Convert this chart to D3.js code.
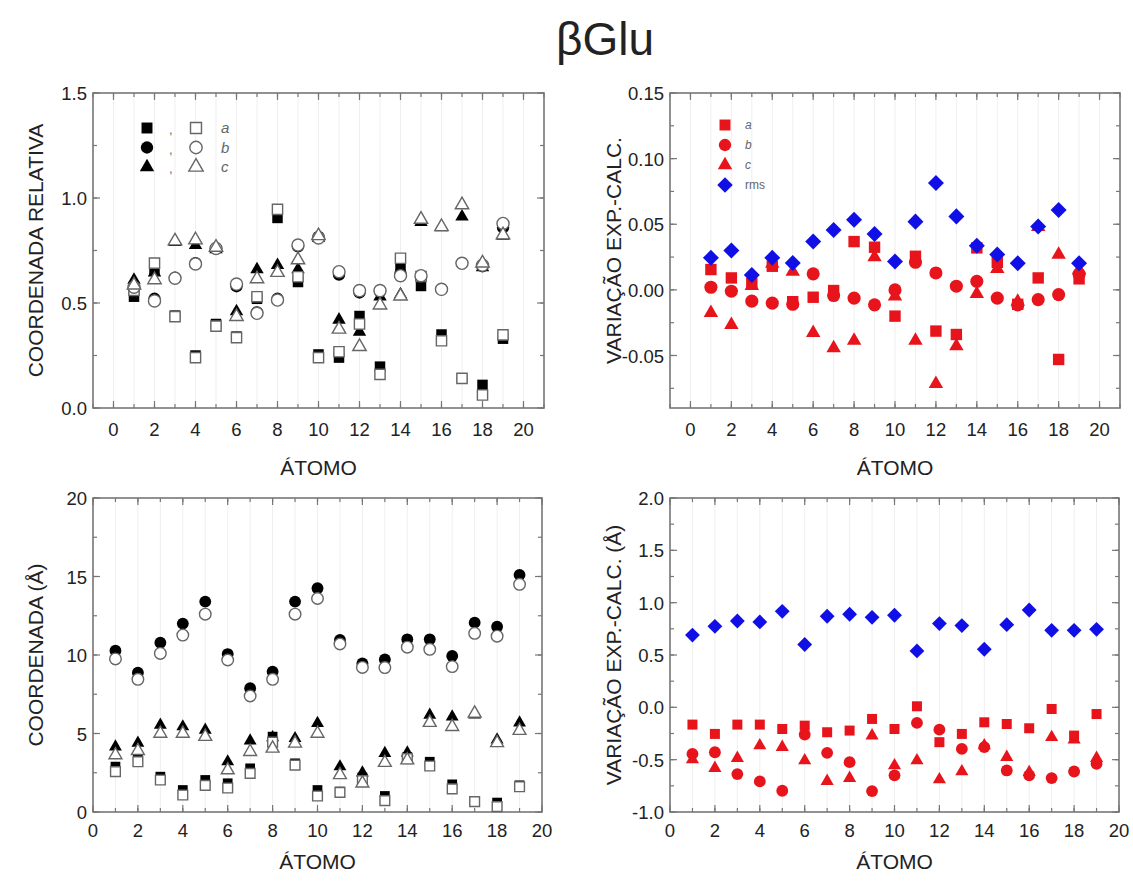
<!DOCTYPE html>
<html>
<head>
<meta charset="utf-8">
<script src="https://cdn.jsdelivr.net/npm/d3@7"></script>
<style>
  body { margin: 0; background: #fff; }
  text { font-family: "Liberation Sans", Arial, sans-serif; }
</style>
</head>
<body>
<div id="chart"></div>
<script>
// atom numbers
var atoms = [1, 2, 3, 4, 5, 6, 7, 8, 9, 10, 11, 12, 13, 14, 15, 16, 17, 18, 19];

// relative (fractional) coordinates, filled = exp, open = calc
var relA_exp  = [0.53, 0.655, 0.44, 0.25, 0.40, 0.34, 0.52, 0.905, 0.60, 0.255, 0.24, 0.438, 0.197, 0.672, 0.581, 0.35, 0.14, 0.11, 0.33];
var relA_calc = [0.56, 0.69, 0.435, 0.24, 0.39, 0.335, 0.53, 0.946, 0.625, 0.24, 0.268, 0.40, 0.16, 0.713, 0.626, 0.32, 0.141, 0.062, 0.348];
var relB_exp  = [0.57, 0.52, 0.62, 0.69, 0.76, 0.58, 0.455, 0.52, 0.77, 0.815, 0.635, 0.55, 0.555, 0.64, 0.62, 0.565, 0.69, 0.675, 0.86];
var relB_calc = [0.575, 0.51, 0.618, 0.686, 0.76, 0.59, 0.451, 0.514, 0.776, 0.81, 0.649, 0.559, 0.559, 0.63, 0.63, 0.565, 0.689, 0.68, 0.879];
var relC_exp  = [0.61, 0.645, 0.79, 0.775, 0.755, 0.46, 0.66, 0.68, 0.66, 0.81, 0.42, 0.363, 0.53, 0.54, 0.885, 0.86, 0.911, 0.67, 0.82];
var relC_calc = [0.585, 0.61, 0.795, 0.80, 0.765, 0.435, 0.615, 0.645, 0.705, 0.82, 0.375, 0.292, 0.49, 0.533, 0.898, 0.863, 0.967, 0.69, 0.824];

// exp - calc, relative coordinates
var relDiffA   = [0.0155, 0.0091, 0.005, 0.018, -0.009, -0.0056, -0.0005, 0.0368, 0.0325, -0.020, 0.0256, -0.0314, -0.034, 0.032, 0.021, -0.011, 0.0091, -0.053, 0.0084];
var relDiffB   = [0.002, -0.001, -0.0086, -0.0101, -0.011, 0.0122, -0.0043, -0.0063, -0.0114, 0.000, 0.021, 0.0129, 0.0028, 0.0065, -0.0063, -0.0115, -0.0074, -0.0036, 0.012];
var relDiffC   = [-0.0175, -0.0266, 0.003, 0.020, 0.014, -0.0327, -0.0444, -0.0386, 0.0249, -0.005, -0.0386, -0.0715, -0.0429, -0.003, 0.016, -0.009, 0.048, 0.0269, 0.015];
var relDiffRms = [0.0244, 0.030, 0.0114, 0.0244, 0.0205, 0.0368, 0.0457, 0.0535, 0.0426, 0.0216, 0.052, 0.0814, 0.056, 0.0337, 0.0269, 0.0203, 0.0482, 0.0609, 0.0203];

// cartesian coordinates (Å)
var cartA_exp  = [2.89, 3.55, 2.25, 1.4, 2.04, 1.83, 2.78, 4.8, 3.1, 1.4, 1.3, 2.2, 1.02, 3.5, 3.2, 1.76, 0.7, 0.6, 1.7];
var cartA_calc = [2.57, 3.2, 2.04, 1.08, 1.7, 1.53, 2.46, 4.45, 2.99, 1.02, 1.25, 2.0, 0.72, 3.4, 2.93, 1.47, 0.66, 0.34, 1.61];
var cartB_exp  = [10.27, 8.87, 10.78, 12.0, 13.4, 10.06, 7.88, 8.94, 13.4, 14.25, 10.96, 9.47, 9.72, 11.0, 11.0, 9.94, 12.06, 11.8, 15.1];
var cartB_calc = [9.75, 8.45, 10.1, 11.27, 12.6, 9.68, 7.39, 8.45, 12.6, 13.6, 10.7, 9.21, 9.2, 10.5, 10.36, 9.26, 11.38, 11.2, 14.5];
var cartC_exp  = [4.16, 4.4, 5.54, 5.44, 5.22, 3.21, 4.54, 4.75, 4.69, 5.65, 2.89, 2.5, 3.74, 3.78, 6.18, 6.07, 6.2, 4.6, 5.69];
var cartC_calc = [3.63, 3.9, 5.0, 5.0, 4.8, 2.67, 3.84, 4.05, 4.37, 5.0, 2.36, 1.83, 3.14, 3.3, 5.69, 5.43, 6.28, 4.4, 5.18];

// exp - calc, cartesian (Å)
var cartDiffA   = [-0.165, -0.254, -0.165, -0.165, -0.207, -0.175, -0.238, -0.222, -0.111, -0.207, 0.01, -0.333, -0.254, -0.143, -0.159, -0.2, -0.016, -0.27, -0.064];
var cartDiffB   = [-0.445, -0.429, -0.638, -0.708, -0.797, -0.26, -0.435, -0.524, -0.80, -0.65, -0.149, -0.213, -0.397, -0.38, -0.603, -0.65, -0.676, -0.613, -0.54];
var cartDiffC   = [-0.499, -0.581, -0.486, -0.365, -0.381, -0.508, -0.705, -0.676, -0.27, -0.556, -0.508, -0.69, -0.613, -0.365, -0.476, -0.62, -0.286, -0.31, -0.486];
var cartDiffRms = [0.69, 0.774, 0.825, 0.816, 0.917, 0.60, 0.87, 0.889, 0.86, 0.88, 0.539, 0.80, 0.781, 0.555, 0.79, 0.93, 0.736, 0.736, 0.745];

var xTickLabels = [0, 2, 4, 6, 8, 10, 12, 14, 16, 18, 20];

var width = 1133, height = 884;
var red = "#e8141b", blue = "#1010e6", openStroke = "#666";

var svg = d3.select("#chart").append("svg")
  .attr("width", width)
  .attr("height", height);

svg.append("text")
  .attr("x", 605).attr("y", 55)
  .attr("text-anchor", "middle")
  .attr("font-size", 46)
  .attr("fill", "#222")
  .text("βGlu");

function steps(d0, d1, step) {
  var out = [];
  var start = Math.ceil(d0 / step - 1e-9);
  for (var i = start; i * step <= d1 + 1e-9; i++) {
    out.push(+(i * step).toFixed(6));
  }
  return out;
}

function symbolPath(type, size) {
  return d3.symbol().type(type).size(size)();
}

function drawPanel(p) {
  var x = d3.scaleLinear().domain(p.xDomain).range([p.left, p.right]);
  var y = d3.scaleLinear().domain(p.yDomain).range([p.bottom, p.top]);
  var g = svg.append("g");

  // faint vertical grid
  g.selectAll("line.grid")
    .data(steps(p.xDomain[0], p.xDomain[1], 1))
    .enter().append("line")
      .attr("x1", function(d) { return x(d); })
      .attr("x2", function(d) { return x(d); })
      .attr("y1", p.top).attr("y2", p.bottom)
      .attr("stroke", "#efefef")
      .attr("stroke-width", 1);

  // ticks on all four sides, pointing inward
  var tickColor = "#777";
  var xMaj = steps(p.xDomain[0], p.xDomain[1], 2);
  var xMin = steps(p.xDomain[0], p.xDomain[1], 1);
  var yMaj = steps(p.yDomain[0], p.yDomain[1], p.yStep);
  var yMin = steps(p.yDomain[0], p.yDomain[1], p.yStep / 2);

  [[xMin, 4], [xMaj, 7]].forEach(function(t) {
    t[0].forEach(function(v) {
      g.append("line").attr("x1", x(v)).attr("x2", x(v))
        .attr("y1", p.bottom).attr("y2", p.bottom - t[1])
        .attr("stroke", tickColor).attr("stroke-width", 1.2);
      g.append("line").attr("x1", x(v)).attr("x2", x(v))
        .attr("y1", p.top).attr("y2", p.top + t[1])
        .attr("stroke", tickColor).attr("stroke-width", 1.2);
    });
  });
  [[yMin, 4], [yMaj, 7]].forEach(function(t) {
    t[0].forEach(function(v) {
      g.append("line").attr("y1", y(v)).attr("y2", y(v))
        .attr("x1", p.left).attr("x2", p.left + t[1])
        .attr("stroke", tickColor).attr("stroke-width", 1.2);
      g.append("line").attr("y1", y(v)).attr("y2", y(v))
        .attr("x1", p.right).attr("x2", p.right - t[1])
        .attr("stroke", tickColor).attr("stroke-width", 1.2);
    });
  });

  g.append("rect")
    .attr("x", p.left).attr("y", p.top)
    .attr("width", p.right - p.left).attr("height", p.bottom - p.top)
    .attr("fill", "none")
    .attr("stroke", "#777")
    .attr("stroke-width", 1.6);

  // tick labels
  var fmt = d3.format(p.yFormat);
  g.selectAll("text.ylab")
    .data(yMaj)
    .enter().append("text")
      .attr("x", p.left - 6)
      .attr("y", function(d) { return y(d) + 7; })
      .attr("text-anchor", "end")
      .attr("font-size", 18.5)
      .attr("fill", "#222")
      .text(function(d) { return fmt(d).replace("−", "-"); });

  g.selectAll("text.xlab")
    .data(xTickLabels)
    .enter().append("text")
      .attr("x", function(d) { return x(d); })
      .attr("y", p.bottom + p.xLabelGap)
      .attr("text-anchor", "middle")
      .attr("font-size", 18.5)
      .attr("fill", "#222")
      .text(function(d) { return d; });

  // axis titles
  g.append("text")
    .attr("x", (p.left + p.right) / 2)
    .attr("y", p.bottom + p.xTitleGap)
    .attr("text-anchor", "middle")
    .attr("font-size", 21)
    .attr("fill", "#222")
    .text("ÁTOMO");

  g.append("text")
    .attr("transform", "translate(" + p.yTitleX + "," + ((p.top + p.bottom) / 2) + ") rotate(-90)")
    .attr("text-anchor", "middle")
    .attr("font-size", 21)
    .attr("fill", "#222")
    .text(p.yTitle);

  // points
  p.series.forEach(function(s) {
    g.selectAll(null)
      .data(s.values)
      .enter().append("path")
        .attr("d", symbolPath(s.type, s.size))
        .attr("transform", function(d, i) {
          return "translate(" + x(atoms[i]) + "," + y(d) + ")" + (s.rotate ? " rotate(45)" : "");
        })
        .attr("fill", s.fill)
        .attr("stroke", s.stroke || "none")
        .attr("stroke-width", s.stroke ? 1.4 : 0);
  });

  return { x: x, y: y };
}

var sq = d3.symbolSquare, ci = d3.symbolCircle, tr = d3.symbolTriangle;

// top left
drawPanel({
  left: 93, right: 544, top: 93, bottom: 408,
  xDomain: [-1, 21], yDomain: [0, 1.5], yStep: 0.5, yFormat: ".1f",
  xLabelGap: 28, xTitleGap: 67,
  yTitle: "COORDENADA RELATIVA", yTitleX: 43,
  series: [
    { values: relA_exp, type: sq, size: 110, fill: "#000" },
    { values: relB_exp, type: ci, size: 120, fill: "#000" },
    { values: relC_exp, type: tr, size: 78, fill: "#000" },
    { values: relA_calc, type: sq, size: 105, fill: "#fff", stroke: openStroke },
    { values: relB_calc, type: ci, size: 115, fill: "#fff", stroke: openStroke },
    { values: relC_calc, type: tr, size: 78, fill: "#fff", stroke: openStroke }
  ]
});

// top right
drawPanel({
  left: 670, right: 1120, top: 93, bottom: 408,
  xDomain: [-1, 21], yDomain: [-0.09, 0.15], yStep: 0.05, yFormat: ".2f",
  xLabelGap: 28, xTitleGap: 67,
  yTitle: "VARIAÇÃO EXP.-CALC.", yTitleX: 621,
  series: [
    { values: relDiffA, type: sq, size: 130, fill: red },
    { values: relDiffB, type: ci, size: 135, fill: red },
    { values: relDiffC, type: tr, size: 90, fill: red },
    { values: relDiffRms, type: sq, size: 128, fill: blue, rotate: true }
  ]
});

// bottom left
drawPanel({
  left: 93, right: 542, top: 498, bottom: 812,
  xDomain: [0, 20], yDomain: [0, 20], yStep: 5, yFormat: "d",
  xLabelGap: 25, xTitleGap: 57,
  yTitle: "COORDENADA (Å)", yTitleX: 43,
  series: [
    { values: cartA_exp, type: sq, size: 95, fill: "#000" },
    { values: cartB_exp, type: ci, size: 110, fill: "#000" },
    { values: cartC_exp, type: tr, size: 72, fill: "#000" },
    { values: cartA_calc, type: sq, size: 95, fill: "#fff", stroke: openStroke },
    { values: cartB_calc, type: ci, size: 105, fill: "#fff", stroke: openStroke },
    { values: cartC_calc, type: tr, size: 72, fill: "#fff", stroke: openStroke }
  ]
});

// bottom right
drawPanel({
  left: 670, right: 1119, top: 498, bottom: 812,
  xDomain: [0, 20], yDomain: [-1, 2], yStep: 0.5, yFormat: ".1f",
  xLabelGap: 25, xTitleGap: 57,
  yTitle: "VARIAÇÃO EXP.-CALC. (Å)", yTitleX: 621,
  series: [
    { values: cartDiffA, type: sq, size: 100, fill: red },
    { values: cartDiffB, type: ci, size: 110, fill: red },
    { values: cartDiffC, type: tr, size: 75, fill: red },
    { values: cartDiffRms, type: sq, size: 110, fill: blue, rotate: true }
  ]
});

// legend, top left
var legLeft = [
  { type: sq, label: "a" },
  { type: ci, label: "b" },
  { type: tr, label: "c" }
];
legLeft.forEach(function(d, i) {
  var ly = 128 + i * 19.5;
  svg.append("path").attr("d", symbolPath(d.type, d.type === tr ? 90 : 120))
    .attr("transform", "translate(147," + ly + ")").attr("fill", "#000");
  svg.append("text").attr("x", 169).attr("y", ly + 6)
    .attr("font-size", 13).attr("fill", "#666").text(",");
  svg.append("path").attr("d", symbolPath(d.type, d.type === tr ? 90 : 120))
    .attr("transform", "translate(196," + ly + ")")
    .attr("fill", "#fff").attr("stroke", openStroke).attr("stroke-width", 1.4);
  svg.append("text").attr("x", 221).attr("y", ly + 5)
    .attr("font-size", 15).attr("font-style", "italic").attr("fill", "#666").text(d.label);
});

// legend, top right
var legRight = [
  { type: sq, label: "a", color: red, rot: false, italic: true },
  { type: ci, label: "b", color: red, rot: false, italic: true },
  { type: tr, label: "c", color: red, rot: false, italic: true },
  { type: sq, label: "rms", color: blue, rot: true, italic: false }
];
legRight.forEach(function(d, i) {
  var ly = 125 + i * 20;
  svg.append("path").attr("d", symbolPath(d.type, d.type === tr ? 90 : 120))
    .attr("transform", "translate(725," + ly + ")" + (d.rot ? " rotate(45)" : ""))
    .attr("fill", d.color);
  svg.append("text").attr("x", 745).attr("y", ly + 4)
    .attr("font-size", 12).attr("font-style", d.italic ? "italic" : "normal")
    .attr("fill", "#666").text(d.label);
});
</script>
</body>
</html>
